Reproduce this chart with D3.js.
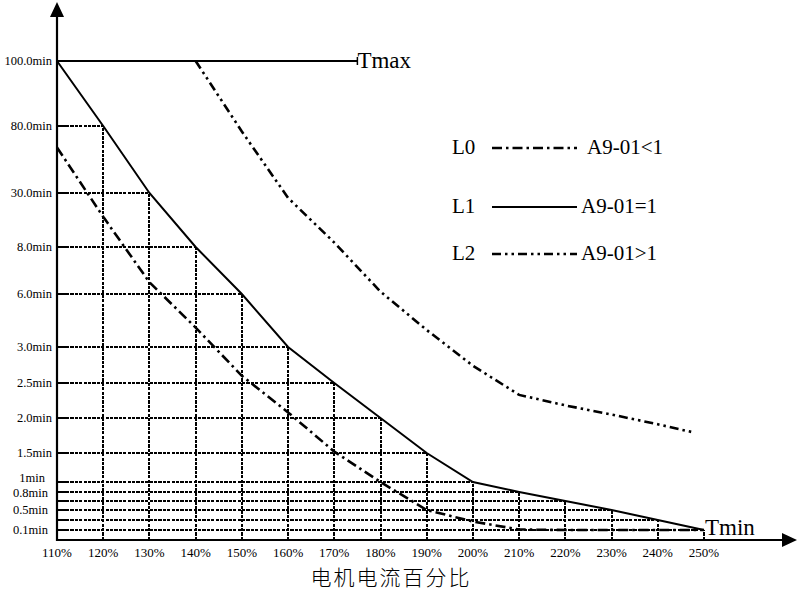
<!DOCTYPE html>
<html><head><meta charset="utf-8">
<script src="https://cdn.jsdelivr.net/npm/d3@7/dist/d3.min.js"></script>
<style>body{margin:0;background:#fff} svg{display:block}</style>
</head><body><svg id="c" width="797" height="594"></svg>
<script>
// ---- data ----
const percents = [110,120,130,140,150,160,170,180,190,200,210,220,230,240,250];
const L1 = [100,80,30,8,6,3,2.5,2,1.5,1,0.8,0.65,0.5,0.3,0.1];
const L0 = [64,20.3,6.5,4.1,2.6,2.08,1.52,1.0,0.5,0.27,0.11,0.1,0.1,0.1,0.1];
const L2x = [140,150,160,170,180,190,200,210,220,230,240,248];
const L2 = [100,75.9,28,9.8,6.1,3.96,2.74,2.33,2.18,2.05,1.91,1.79];
const yTickValues = [100,80,30,8,6,3,2.5,2,1.5,1,0.8,0.5,0.1];
const yTickLabels = ["100.0min","80.0min","30.0min","8.0min","6.0min","3.0min","2.5min","2.0min","1.5min","1min","0.8min","0.5min","0.1min"];
const xTickLabels = percents.map(p => p + "%");
const seriesNames = ["L0","L1","L2"];
const seriesDesc = ["A9-01<1","A9-01=1","A9-01>1"];
const tmaxSpan = [110,175];
const axisTitle = "电机电流百分比";

// ---- scales ----
const x = d3.scaleLinear().domain([110,250]).range([57,704]);
// piecewise (non-uniform) vertical scale matching the original grid spacing
const yLevels = [0,0.1,0.3,0.5,0.65,0.8,1,1.5,2,2.5,3,6,8,30,80,100];
const yPix    = [540,530,520,510,501,492,482,453,418,383,347,294,247,193,126,61];
const y = d3.scaleLinear().domain(yLevels).range(yPix);

const svg = d3.select("#c");
const serif = "'Liberation Serif','Times New Roman',serif";
const x0 = x(110), yBase = y(0);
const rx = v => Math.round(x(v));

// ---- grid (dotted) ----
const grid = svg.append("g").attr("stroke","#000").attr("stroke-width",2.4)
  .attr("stroke-dasharray","3.2,1.2").attr("fill","none").attr("shape-rendering","crispEdges");
percents.forEach((p,i) => {
  if (i === 0) return;
  grid.append("line").attr("x1",rx(p)).attr("x2",rx(p)).attr("y1",yBase).attr("y2",y(L1[i]));
  grid.append("line").attr("x1",x0+9).attr("x2",rx(p)).attr("y1",y(L1[i])).attr("y2",y(L1[i]));
  svg.append("line").attr("x1",x0).attr("x2",x0+9).attr("y1",y(L1[i])).attr("y2",y(L1[i]))
     .attr("stroke","#000").attr("stroke-width",2).attr("shape-rendering","crispEdges");
});

// ---- Tmax line ----
svg.append("line").attr("x1",x(tmaxSpan[0])).attr("x2",x(tmaxSpan[1])).attr("y1",y(100)).attr("y2",y(100))
  .attr("stroke","#000").attr("stroke-width",2).attr("shape-rendering","crispEdges");
svg.append("line").attr("x1",x(tmaxSpan[1])).attr("x2",x(tmaxSpan[1])).attr("y1",y(100)-4).attr("y2",y(100)+4)
  .attr("stroke","#000").attr("stroke-width",1.5);

// ---- series ----
const line = d3.line().x(d => x(d[0])).y(d => y(d[1]));
const dashes = {L0:"10,4,2.5,4", L1:null, L2:"9,4,2.5,4,2.5,4"};
svg.append("path").datum(percents.map((p,i)=>[p,L1[i]])).attr("d",line)
  .attr("fill","none").attr("stroke","#000").attr("stroke-width",2);
svg.append("path").datum(percents.map((p,i)=>[p,L0[i]])).attr("d",line)
  .attr("fill","none").attr("stroke","#000").attr("stroke-width",2.6).attr("stroke-dasharray",dashes.L0);
svg.append("path").datum(L2x.map((p,i)=>[p,L2[i]])).attr("d",line)
  .attr("fill","none").attr("stroke","#000").attr("stroke-width",2.6).attr("stroke-dasharray",dashes.L2);

// ---- axes ----
svg.append("line").attr("x1",x0).attr("x2",x0).attr("y1",yBase+1).attr("y2",14).attr("stroke","#000").attr("stroke-width",2.2);
svg.append("path").attr("d",`M${x0},2 L${x0-7},17 L${x0+7},17 Z`).attr("fill","#000");
svg.append("line").attr("x1",x0-1).attr("x2",785).attr("y1",yBase).attr("y2",yBase).attr("stroke","#000").attr("stroke-width",2.2);
svg.append("path").attr("d",`M797,${yBase} L782,${yBase-7} L782,${yBase+7} Z`).attr("fill","#000");

// x tick labels
svg.append("g").selectAll("text").data(percents).join("text")
  .attr("x",d=>x(d)).attr("y",557).attr("text-anchor","middle")
  .attr("font-family",serif).attr("font-size",13).text((d,i)=>xTickLabels[i]);

// y tick labels
svg.append("g").selectAll("text").data(yTickValues).join("text")
  .attr("x",d=> d>=1.5 ? 52 : (d===1 ? 45 : 48))
  .attr("y",d=>y(d) + (d===1 ? 0 : (d===0.8 ? 5 : 4)))
  .attr("text-anchor","end")
  .attr("font-family",serif).attr("font-size",12.5).text((d,i)=>yTickLabels[i]);

// Tmax / Tmin
svg.append("text").attr("x",x(tmaxSpan[1])).attr("y",y(100)+7).attr("font-family",serif).attr("font-size",23).text("Tmax");
svg.append("text").attr("x",x(250)+1).attr("y",535).attr("font-family",serif).attr("font-size",23).text("Tmin");

// axis title
svg.append("text").attr("x",391).attr("y",585).attr("text-anchor","middle")
  .attr("font-family","'Noto Sans CJK SC',sans-serif").attr("font-size",21).attr("font-weight",300).attr("letter-spacing",2).text(axisTitle);

// ---- legend ----
const legY = [148,207,254];
const descX = [587,581,581];
seriesNames.forEach((n,i)=>{
  svg.append("text").attr("x",452).attr("y",legY[i]+6).attr("font-family",serif).attr("font-size",21).text(n);
  const l = svg.append("line").attr("x1",492).attr("x2",577).attr("y1",legY[i]).attr("y2",legY[i])
    .attr("stroke","#000").attr("stroke-width", i===1 ? 1.8 : 2.5);
  if (dashes[n]) l.attr("stroke-dasharray", dashes[n]);
  svg.append("text").attr("x",descX[i]).attr("y",legY[i]+6).attr("font-family",serif).attr("font-size",21).text(seriesDesc[i]);
});
</script></body></html>
